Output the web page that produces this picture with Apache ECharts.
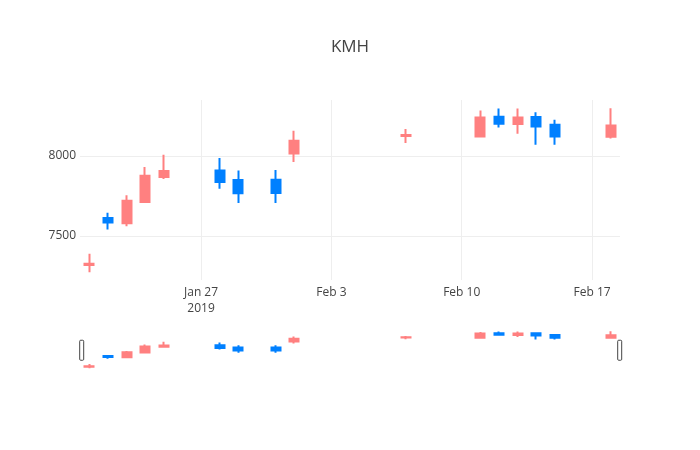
<!DOCTYPE html>
<html>
<head>
<meta charset="utf-8">
<title>KMH</title>
<script src="https://cdn.jsdelivr.net/npm/echarts@6/dist/echarts.min.js"></script>
<style>
    html, body { margin: 0; padding: 0; background: #fff; }
    #chart { width: 700px; height: 450px; }
</style>
</head>
<body>
<div id="chart"></div>
<script>
// daily candles
const dates = [
    "2019-01-21", "2019-01-22", "2019-01-23", "2019-01-24", "2019-01-25",
    "2019-01-28", "2019-01-29", "2019-01-31", "2019-02-01", "2019-02-07",
    "2019-02-11", "2019-02-12", "2019-02-13", "2019-02-14", "2019-02-15", "2019-02-18",
];
const opens = [
    7318, 7613, 7580, 7713, 7869, 7910, 7850, 7851, 8015, 8125, 8122, 8245, 8200, 8243, 8195, 8120,
];
const closes = [
    7326, 7585, 7721, 7877, 7906, 7838, 7767, 7768, 8095, 8132, 8241, 8201, 8241, 8185, 8122, 8190,
];
const lows = [
    7274, 7540, 7561, 7710, 7857, 7796, 7707, 7706, 7963, 8081, 8120, 8178, 8139, 8070, 8070, 8110,
];
const highs = [
    7389, 7645, 7754, 7931, 8008, 7988, 7910, 7912, 8158, 8168, 8284, 8297, 8297, 8274, 8226, 8298,
];

const xTickDates = ["2019-01-27", "2019-02-03", "2019-02-10", "2019-02-17"];
const xTickLabels = ["Jan 27\n2019", "Feb 3", "Feb 10", "Feb 17"];
const yTicks = [7500, 8000];

const UP = "#ff8080";
const DOWN = "#0080ff";
const FONT = "Open Sans";

// x is measured in days from the first tick date (value axis, not time axis)
const DAY = 24 * 3600 * 1000;
const origin = new Date(xTickDates[0] + "T00:00:00Z").getTime();
const toDay = (d) => Math.round((new Date(d + "T00:00:00Z").getTime() - origin) / DAY);

const xMin = toDay(dates[0]) - 0.5;
const xMax = toDay(dates[dates.length - 1]) + 0.5;
const yMin = 7225;
const yMax = 8350;

const candles = dates.map((d, i) => [toDay(d), opens[i], closes[i], lows[i], highs[i]]);
const xTicks = xTickDates.map(toDay);

const candleStyle = {
    color: UP,
    color0: DOWN,
    borderColor: UP,
    borderColor0: DOWN,
    borderWidth: 2,
};

const option = {
    animation: false,
    backgroundColor: "#fff",
    title: {
        text: "KMH",
        left: "center",
        top: 34,
        textStyle: {
            fontFamily: FONT,
            fontSize: 17,
            fontWeight: "normal",
            color: "#444",
        },
    },
    grid: [
        { left: 80, right: 80, top: 100, height: 180 },
        { left: 80, right: 80, top: 329.5, height: 40.5 },
    ],
    xAxis: [
        {
            type: "value",
            gridIndex: 0,
            min: xMin,
            max: xMax,
            axisLine: { show: false },
            axisTick: { show: false, customValues: xTicks },
            axisLabel: {
                customValues: xTicks,
                formatter: (v) => {
                    const i = xTicks.indexOf(v);
                    return i >= 0 ? xTickLabels[i] : "";
                },
                color: "#444",
                fontFamily: FONT,
                fontSize: 12,
                lineHeight: 16,
                margin: 5,
            },
            splitLine: { show: true, lineStyle: { color: "#eee", width: 1 } },
        },
        {
            type: "value",
            gridIndex: 1,
            min: xMin,
            max: xMax,
            show: false,
        },
    ],
    yAxis: [
        {
            type: "value",
            gridIndex: 0,
            min: yMin,
            max: yMax,
            axisLine: { show: false },
            axisTick: { show: false, customValues: yTicks },
            axisLabel: {
                customValues: yTicks,
                formatter: (v) => String(v),
                color: "#444",
                fontFamily: FONT,
                fontSize: 12,
                margin: 4,
            },
            splitLine: { show: true, lineStyle: { color: "#eee", width: 1 } },
        },
        {
            type: "value",
            gridIndex: 1,
            min: yMin,
            max: yMax,
            show: false,
        },
    ],
    dataZoom: [
        {
            type: "slider",
            xAxisIndex: [0, 1],
            filterMode: "none",
            left: 80,
            right: 80,
            top: 329.5,
            height: 40.5,
            backgroundColor: "transparent",
            borderColor: "transparent",
            fillerColor: "transparent",
            showDataShadow: false,
            showDetail: false,
            brushSelect: false,
            moveHandleSize: 0,
            handleIcon: "path://M1,0 H3 A1,1 0 0 1 4,1 V19 A1,1 0 0 1 3,20 H1 A1,1 0 0 1 0,19 V1 A1,1 0 0 1 1,0 Z",
            handleSize: 20,
            handleStyle: { color: "#fff", borderColor: "#444", borderWidth: 1 },
            dataBackground: { lineStyle: { opacity: 0 }, areaStyle: { opacity: 0 } },
            selectedDataBackground: { lineStyle: { opacity: 0 }, areaStyle: { opacity: 0 } },
        },
    ],
    series: [
        {
            name: "KMH",
            type: "candlestick",
            xAxisIndex: 0,
            yAxisIndex: 0,
            barWidth: 9.5,
            itemStyle: candleStyle,
            encode: { x: 0, y: [1, 2, 3, 4] },
            data: candles,
        },
        {
            name: "KMH slider",
            type: "candlestick",
            xAxisIndex: 1,
            yAxisIndex: 1,
            barWidth: 9.5,
            silent: true,
            itemStyle: candleStyle,
            encode: { x: 0, y: [1, 2, 3, 4] },
            data: candles,
        },
    ],
};

const chart = echarts.init(document.getElementById("chart"));
chart.setOption(option);
</script>
</body>
</html>
